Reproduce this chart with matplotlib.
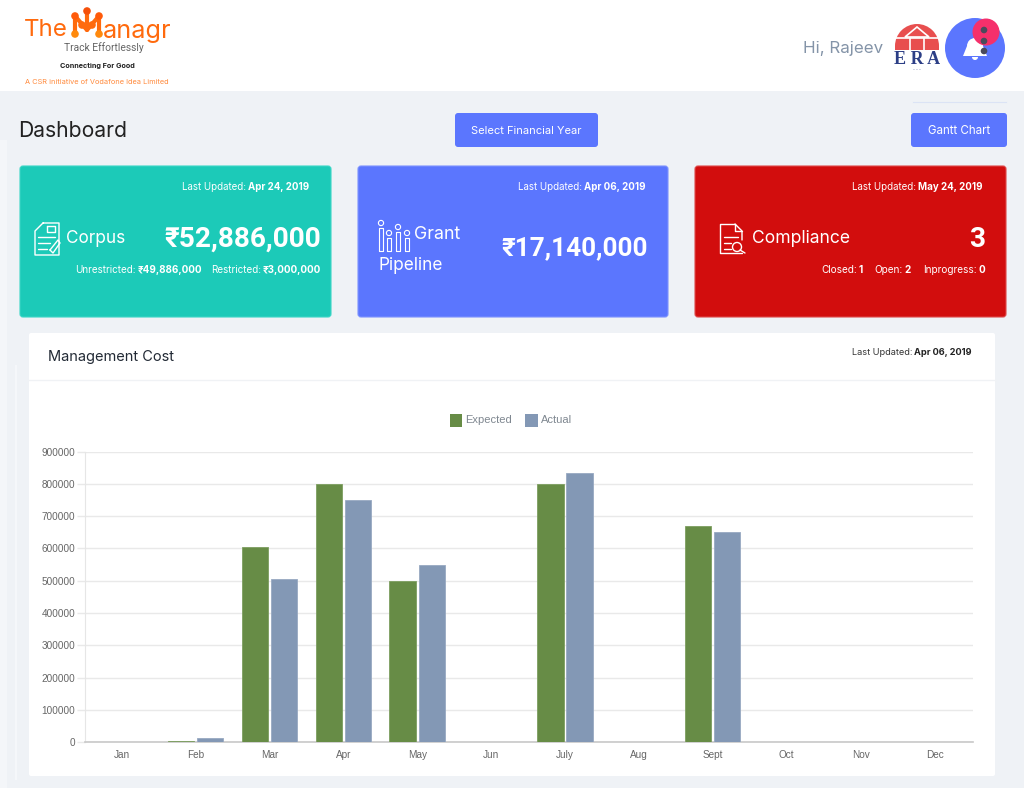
import matplotlib
matplotlib.use("Agg")
import matplotlib.pyplot as plt
from matplotlib.patches import Circle, FancyBboxPatch, Polygon, Rectangle, Wedge

plt.rcParams['font.family'] = ['Inter', 'DejaVu Sans']

# chart data
months = ['Jan', 'Feb', 'Mar', 'Apr', 'May', 'Jun', 'July', 'Aug', 'Sept', 'Oct', 'Nov', 'Dec']
expected = [0, 5000, 605000, 800000, 500000, 0, 800000, 0, 670000, 0, 0, 0]
actual = [0, 13000, 505000, 750000, 550000, 0, 832000, 0, 650000, 0, 0, 0]
y_ticks = [0, 100000, 200000, 300000, 400000, 500000, 600000, 700000, 800000, 900000]

GREEN = '#678c46'
SLATE = '#8398b5'
TEAL = '#1ccab8'
BLUE = '#5b76fe'
RED = '#d20d0d'
PAGE = '#eff2f6'
ORANGE = '#ff6a0d'
ROBOTO = ['Roboto', 'DejaVu Sans']
ARIAL = ['Liberation Sans', 'DejaVu Sans']

W, H = 1024, 788
fig = plt.figure(figsize=(W / 100, H / 100), dpi=100, facecolor=PAGE)

# overlay in pixel coordinates for the dashboard around the chart
ui = fig.add_axes([0, 0, 1, 1], zorder=0)
ui.set_xlim(0, W)
ui.set_ylim(H, 0)
ui.axis('off')


def box(x0, y0, x1, y1, color, r=3, edge='none', z=1):
    ui.add_patch(FancyBboxPatch((x0 + r, y0 + r), x1 - x0 - 2 * r, y1 - y0 - 2 * r,
                                boxstyle=f'round,pad={r}', fc=color, ec=edge, lw=0.8, zorder=z))


def label(x, y, s, size, color='white', ha='left', weight='normal', z=5, family=None):
    t = ui.text(x, y + 1, s, fontsize=size, color=color, ha=ha, va='center', fontweight=weight, zorder=z)
    if family:
        t.set_fontfamily(family)
    return t


def outline(pts, lw=1.0, color='white', z=5):
    xs, ys = zip(*pts)
    ui.plot(xs, ys, color=color, lw=lw, zorder=z, solid_capstyle='round')


# plain caption followed by a bold value, right aligned on x_right
def pair(x_right, y, caption, value, size, color='white', cap_color=None):
    t = label(x_right, y, value, size, color, ha='right', weight='bold')
    fig.canvas.draw()
    bb = t.get_window_extent().transformed(ui.transData.inverted())
    label(bb.x0 - 2, y, caption, size, cap_color or color, ha='right')


# header
ui.add_patch(Rectangle((0, 0), W, 91, fc='white', ec='none', zorder=1))
label(24, 29, 'The', 17.4, ORANGE)
label(103, 30, 'anagr', 18.2, ORANGE)
outline([(75, 34), (75, 16), (87, 30), (87, 11)], lw=3, color=ORANGE)
outline([(99, 34), (99, 16), (87, 30)], lw=3, color=ORANGE)
for px, py, col in [(75, 34, '#ff8a0d'), (75, 16, '#ff5a0a'), (82, 25, '#ff6a0d'), (87, 11, '#f5500a'),
                    (92, 25, '#ff6a0d'), (99, 16, '#ff5a0a'), (99, 34, '#ff8a0d')]:
    ui.add_patch(Circle((px, py), 3.8, fc=col, ec='none', zorder=6))
label(104, 47, 'Track Effortlessly', 7.4, '#666666', ha='center', family=ROBOTO)
label(97, 65, 'Connecting For Good', 5.2, '#222222', ha='center', weight='bold')
label(97, 81, 'A CSR initiative of Vodafone Idea Limited', 5.3, '#ff8a3c', ha='center')

label(803, 47, 'Hi, Rajeev', 12.2, '#8494a8')
ui.add_patch(Wedge((917, 46), 22, 180, 360, fc='#e84f4f', ec='none', zorder=2))
ui.add_patch(Rectangle((895, 46), 44, 4, fc='#e84f4f', ec='none', zorder=2))
ui.add_patch(Polygon([(905, 37), (917, 27), (929, 37)], fc='none', ec='white', lw=1.2, zorder=3))
outline([(895, 38), (939, 38)], lw=1.2)
outline([(910, 38), (910, 50)], lw=1.2)
outline([(924, 38), (924, 50)], lw=1.2)
label(917, 58, 'E R A', 13, '#2c3f86', ha='center', weight='bold', family=['Liberation Serif', 'DejaVu Serif'])
ui.text(917, 70, '- - -', fontsize=3, color='#2c3f86', ha='center', va='center', zorder=5)

ui.add_patch(Circle((975, 48), 30, fc=BLUE, ec='none', zorder=2))
ui.add_patch(Wedge((975, 46), 8, 180, 360, fc='white', ec='none', zorder=3))
ui.add_patch(Polygon([(967, 46), (983, 46), (987, 56), (963, 56)], fc='white', ec='none', zorder=3))
ui.add_patch(Wedge((975, 57), 3, 0, 180, fc='white', ec='none', zorder=3))
ui.add_patch(Circle((986, 32), 13.5, fc='#f5306b', ec='none', zorder=4))
for py in [30, 41, 51]:
    ui.add_patch(Circle((984, py), 3.3, fc='#4a4a5c', ec='none', zorder=5))

# faint strips left on the page
ui.add_patch(Rectangle((0, 140), 7, 648, fc='#f4f6f9', ec='none', zorder=0.5))
ui.add_patch(Rectangle((15, 365), 2, 415, fc='#f5f7fa', ec='none', zorder=0.5))

# page title and buttons
label(18, 130, 'Dashboard', 15.2, '#222222')
ui.plot([913, 1006], [102, 102], color='#dbe3f5', lw=0.8, zorder=1)
box(455, 113, 598, 147, BLUE)
label(526, 129.5, 'Select Financial Year', 8, ha='center')
box(911, 113, 1007, 147, BLUE)
label(959, 129.5, 'Gantt Chart', 8.3, ha='center')

# cards
box(20, 166, 331, 317, TEAL, edge='#3bd6c6')
box(358, 166, 668, 317, BLUE, edge='#7c92fe')
box(695, 166, 1006, 317, RED, edge='#de4a4a')

# Corpus
pair(309, 186, 'Last Updated:', 'Apr 24, 2019', 7)
label(66, 237, 'Corpus', 12.4)
label(321, 238, '₹52,886,000', 20.2, ha='right', weight='bold', family=ROBOTO)
pair(202, 269, 'Unrestricted:', '₹49,886,000', 7.1)
pair(321, 269, 'Restricted:', '₹3,000,000', 7.1)
outline([(43, 223), (59, 223), (59, 255), (35, 255), (35, 231), (43, 223)])
for py, x1 in [(237, 55), (243, 50), (249, 47)]:
    outline([(38, py), (x1, py)])
outline([(47, 226), (55, 226), (55, 232), (47, 232), (47, 226)])
outline([(50, 250), (58, 240), (60, 243), (53, 253), (50, 250)])

# Grant Pipeline
pair(646, 186, 'Last Updated:', 'Apr 06, 2019', 7)
label(414, 233, 'Grant', 12.8)
label(378, 264, 'Pipeline', 12.4)
label(648, 247, '₹17,140,000', 18.8, ha='right', weight='bold', family=ROBOTO)
for px, top in [(381, 228), (389, 238), (398, 232), (407, 238)]:
    outline([(px - 2, 251), (px - 2, top), (px + 2, top), (px + 2, 251), (px - 2, 251)], lw=0.8)
    ui.add_patch(Circle((px, top - 5), 2.6, fc='none', ec='white', lw=0.8, zorder=5))

# Compliance
pair(983, 186, 'Last Updated:', 'May 24, 2019', 7)
label(752, 237, 'Compliance', 12.6)
label(985, 238, '3', 20.2, ha='right', weight='bold', family=ROBOTO)
pair(985, 269, 'Inprogress:', '0', 7.2)
pair(911, 269, 'Open:', '2', 7.2)
pair(863, 269, 'Closed:', '1', 7.2)
outline([(735, 224), (720, 224), (720, 253), (742, 253)])
outline([(735, 224), (742, 231), (742, 240)])
outline([(735, 224), (735, 231), (742, 231)])
for py, x1 in [(237, 738), (243, 731), (249, 731)]:
    outline([(724, py), (x1, py)])
ui.add_patch(Circle((737, 247), 4.5, fc='none', ec='white', lw=1.0, zorder=5))
outline([(740, 250), (745, 253)])

# chart card
box(29, 333, 995, 776, 'white', r=2)
ui.plot([29, 995], [380, 380], color='#f0f2f5', lw=1, zorder=2)
label(48, 356, 'Management Cost', 10.5, '#222a35')
pair(972, 351, 'Last Updated:', 'Apr 06, 2019', 6.6, '#222222', '#333333')

# legend in pixel positions, same look as chart.js
ui.add_patch(Rectangle((449.5, 414), 12.5, 12.5, fc=GREEN, ec='none', zorder=3))
label(465, 419, 'Expected', 8, '#7f8790', z=3, family=ARIAL)
ui.add_patch(Rectangle((525, 414), 12.5, 12.5, fc=SLATE, ec='none', zorder=3))
label(540.5, 419, 'Actual', 8, '#7f8790', z=3, family=ARIAL)

# the bar chart itself
ax = fig.add_axes([84.5 / W, 1 - 742.2 / H, (973 - 84.5) / W, (742.2 - 451.5) / H], zorder=2)
ax.patch.set_alpha(0)
pos = list(range(len(months)))
ax.bar([p - 0.197 for p in pos], expected, width=0.355, color=GREEN, edgecolor='#7d9e60', linewidth=0.6, zorder=3)
ax.bar([p + 0.197 for p in pos], actual, width=0.355, color=SLATE, edgecolor='#98a9c2', linewidth=0.6, zorder=3)
ax.set_xlim(-0.5, 11.52)
ax.set_ylim(0, 900000)
ax.set_yticks(y_ticks)
ax.set_yticklabels([str(v) for v in y_ticks])
ax.set_xticks(pos)
ax.set_xticklabels(months)
ax.grid(axis='y', color='#e9e9e9', lw=1, zorder=0)
ax.tick_params(axis='y', length=6, color='#e9e9e9', width=1, pad=0.5, labelsize=7.2, labelcolor='#666666')
ax.tick_params(axis='x', length=0, pad=5.5, labelsize=7.2, labelcolor='#666666')
for lab in ax.get_xticklabels() + ax.get_yticklabels():
    lab.set_fontfamily(ARIAL)
for side in ['top', 'right']:
    ax.spines[side].set_visible(False)
ax.spines['left'].set_color('#e6e6e6')
ax.spines['bottom'].set_color('#c8c8c8')
ax.spines['bottom'].set_linewidth(1.2)

fig.savefig('out.png', dpi=100, facecolor=PAGE)
